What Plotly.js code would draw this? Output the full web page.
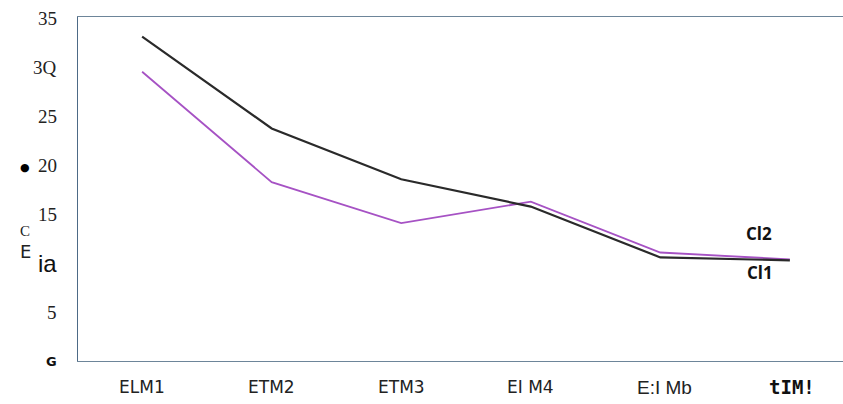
<!DOCTYPE html>
<html><head><meta charset="utf-8">
<script src="https://cdn.plot.ly/plotly-3.0.1.min.js"></script>
<style>html,body{margin:0;padding:0;background:#fff;}#c{width:843px;height:404px;}</style>
</head><body><div id="c"></div>
<script>
// Data
const categories = ['ELM1','ETM2','ETM3','EI M4','E:I Mb','tIM!'];
const cl1 = [33.2, 23.8, 18.6, 15.8, 10.6, 10.3];
const cl2 = [29.6, 18.3, 14.1, 16.3, 11.1, 10.4];
const yTickVals = [35, 30, 25, 20, 15, 10, 5, 0];
const yTickText = ['35', '3Q', '25', '20', '15', 'ia', '5', 'G'];
const seriesNames = ['Cl1', 'Cl2'];

const xIdx = categories.map((_, i) => i);

const serifF = 'Liberation Serif, DejaVu Serif, serif';
const sansF = 'DejaVu Sans, Verdana, sans-serif';

const yFonts = yTickText.map(t => {
  if (t === 'ia') return {family: 'Liberation Sans, Arial, sans-serif', size: 24, color: '#111'};
  if (t === 'G') return {family: 'DejaVu Sans, sans-serif', size: 13, color: '#111', weight: 'bold'};
  return {family: serifF, size: 19, color: '#222'};
});
const xFonts = categories.map(t => {
  if (t === 'E:I Mb') return {family: 'Liberation Sans, Arial, sans-serif', size: 19, color: '#222'};
  if (t === 'tIM!') return {family: 'DejaVu Sans Mono, monospace', size: 19, color: '#111', weight: 'bold'};
  return {family: sansF, size: 17, color: '#222'};
});

const annotations = [];
yTickVals.forEach((v, i) => {
  annotations.push({x: 0, xref: 'paper', xanchor: 'right', xshift: -19, y: v, yref: 'y', yanchor: 'middle',
    text: yTickText[i], showarrow: false, font: yFonts[i]});
});
categories.forEach((c, i) => {
  annotations.push({x: i, xref: 'x', xanchor: 'center', xshift: (c === 'tIM!' ? 2 : (c === 'E:I Mb' ? 4 : 0)), y: 0, yref: 'paper', yanchor: 'middle', yshift: -26,
    text: c, showarrow: false, font: xFonts[i]});
});
// stray scanned marks on the left
annotations.push({x: 0, xref: 'paper', xshift: -60, y: 19.8, yref: 'y', text: '●', showarrow: false,
  font: {family: sansF, size: 11, color: '#000'}});
annotations.push({x: 0, xref: 'paper', xshift: -60, y: 13.3, yref: 'y', text: 'C', showarrow: false,
  font: {family: serifF, size: 15, color: '#222'}});
annotations.push({x: 0, xref: 'paper', xshift: -60, y: 11.2, yref: 'y', text: 'E', showarrow: false,
  font: {family: sansF, size: 18, color: '#222'}});
// series labels
annotations.push({x: 5, xref: 'x', xshift: -31, y: cl2[5], yref: 'y', yshift: 26, text: seriesNames[1], showarrow: false,
  font: {family: 'Open Sans, sans-serif', size: 17, color: '#111', weight: 'bold'}});
annotations.push({x: 5, xref: 'x', xshift: -30, y: cl1[5], yref: 'y', yshift: -12, text: seriesNames[0], showarrow: false,
  font: {family: 'Open Sans, sans-serif', size: 17, color: '#111', weight: 'bold'}});

const traces = [
  {x: xIdx, y: cl2, name: seriesNames[1], mode: 'lines', line: {color: '#a652c4', width: 1.8}},
  {x: xIdx, y: cl1, name: seriesNames[0], mode: 'lines', line: {color: '#2a2a2a', width: 2.2}}
];

const layout = {
  width: 843, height: 404,
  margin: {l: 78, r: 0, t: 17, b: 43},
  paper_bgcolor: '#fff', plot_bgcolor: '#fff',
  showlegend: false,
  xaxis: {range: [-0.495, 5.41], showgrid: false, zeroline: false, showticklabels: false,
    showline: true, linecolor: '#6d8599', linewidth: 1.2, mirror: true, ticks: ''},
  yaxis: {range: [0, 35.2], showgrid: false, zeroline: false, showticklabels: false,
    showline: true, linecolor: '#4d6a86', linewidth: 1.5, mirror: true, ticks: ''},
  annotations: annotations
};

Plotly.newPlot('c', traces, layout, {staticPlot: true});
</script>
</body></html>
